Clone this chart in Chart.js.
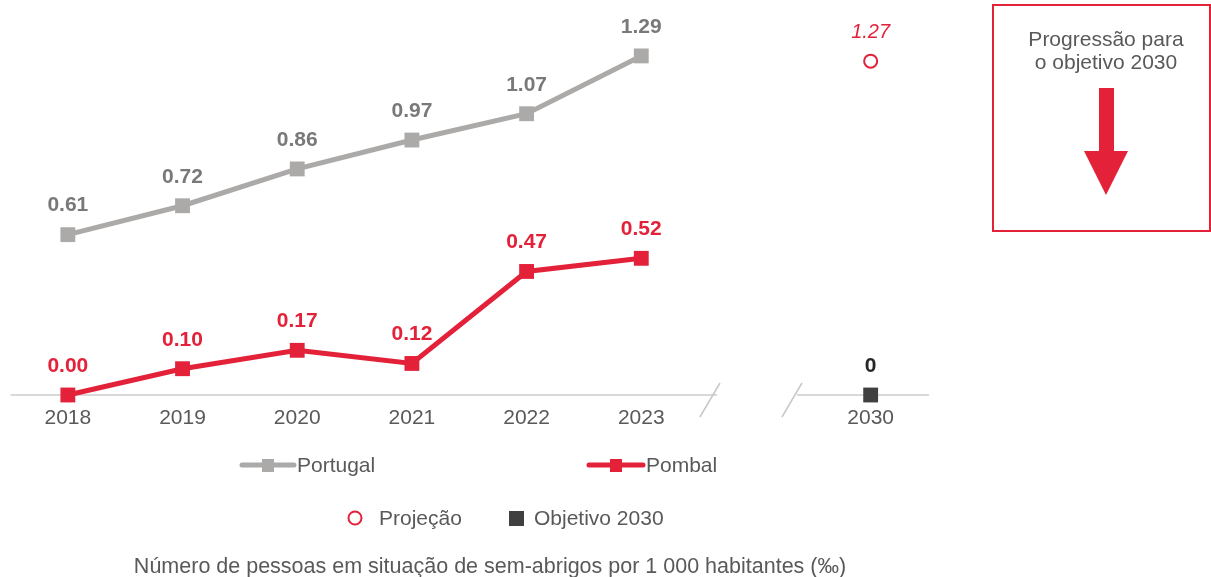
<!DOCTYPE html>
<html>
<head>
<meta charset="utf-8">
<script src="https://cdn.jsdelivr.net/npm/chart.js@4"></script>
<style>
  html, body { margin: 0; padding: 0; background: #fff; }
  #wrap { position: relative; width: 1211px; height: 577px; }
</style>
</head>
<body>
<div id="wrap"><canvas id="chart" width="1211" height="577"></canvas></div>
<script>
let years = ['2018', '2019', '2020', '2021', '2022', '2023', '', '2030']
let portugal = [0.61, 0.72, 0.86, 0.97, 1.07, 1.29, null, null]
let pombal = [0.00, 0.10, 0.17, 0.12, 0.47, 0.52, null, null]
let projecao = [null, null, null, null, null, null, null, 1.27]
let objetivo = [null, null, null, null, null, null, null, 0]

let red = '#e3223a'
let grey = '#acaaa9'
let txt = '#595959'
let font = '"Liberation Sans", Arial, sans-serif'

// value labels above the points
let labelPlugin = {
    id: 'labels',
    afterDatasetsDraw(chart) {
        let ctx = chart.ctx
        ctx.save()
        ctx.textAlign = 'center'
        ctx.textBaseline = 'middle'
        chart.data.datasets.forEach(function(ds, i) {
            let meta = chart.getDatasetMeta(i)
            meta.data.forEach(function(pt, j) {
                let v = ds.data[j]
                if (v === null) return
                let s
                if (ds.label === 'Objetivo 2030') {
                    s = '0'
                    ctx.font = 'bold 21px ' + font
                    ctx.fillStyle = '#262626'
                } else if (ds.label === 'Projeção') {
                    s = v.toFixed(2)
                    ctx.font = 'italic 20px ' + font
                    ctx.fillStyle = red
                } else {
                    s = v.toFixed(2)
                    ctx.font = 'bold 21px ' + font
                    ctx.fillStyle = ds.label === 'Pombal' ? red : '#7a7878'
                }
                ctx.fillText(s, pt.x, pt.y - 29)
            })
        })
        ctx.restore()
    }
}

// axis with break, legend, box
let extrasPlugin = {
    id: 'extras',
    beforeDatasetsDraw(chart) {
        let ctx = chart.ctx
        let xs = chart.scales.x
        let ys = chart.scales.y
        let y0 = ys.getPixelForValue(0)
        let gap = xs.getPixelForValue(6)
        ctx.save()
        ctx.strokeStyle = '#d9d9d9'
        ctx.lineWidth = 2
        ctx.beginPath()
        ctx.moveTo(chart.chartArea.left, y0)
        ctx.lineTo(gap - 39, y0)
        ctx.moveTo(gap + 41, y0)
        ctx.lineTo(chart.chartArea.right + 1, y0)
        ctx.stroke()
        ctx.strokeStyle = '#c8c8c8'
        ctx.lineWidth = 1.5
        ctx.beginPath()
        ctx.moveTo(gap - 36, y0 - 12)
        ctx.lineTo(gap - 56, y0 + 22)
        ctx.moveTo(gap + 46, y0 - 12)
        ctx.lineTo(gap + 26, y0 + 22)
        ctx.stroke()
        ctx.restore()
    },
    afterDraw(chart) {
        let ctx = chart.ctx
        ctx.save()
        ctx.font = '21px ' + font
        ctx.textBaseline = 'middle'
        ctx.textAlign = 'left'

        // legend row 1
        let rows = [
            { x: 240, w: 56, color: grey, label: 'Portugal' },
            { x: 587, w: 58, color: red, label: 'Pombal' }
        ]
        rows.forEach(function(r) {
            ctx.strokeStyle = r.color
            ctx.lineWidth = 5
            ctx.lineCap = 'round'
            ctx.beginPath()
            ctx.moveTo(r.x + 2, 465)
            ctx.lineTo(r.x + r.w - 2, 465)
            ctx.stroke()
            ctx.fillStyle = r.color
            ctx.fillRect(r.x + r.w / 2 - 6, 459, 12, 13)
            ctx.fillStyle = txt
            ctx.fillText(r.label, r.x + r.w + 1, 466)
        })

        // legend row 2
        ctx.strokeStyle = red
        ctx.lineWidth = 2
        ctx.beginPath()
        ctx.arc(355, 518, 6.5, 0, Math.PI * 2)
        ctx.stroke()
        ctx.fillStyle = txt
        ctx.fillText('Projeção', 379, 519)
        ctx.fillStyle = '#404040'
        ctx.fillRect(509, 511, 15, 15)
        ctx.fillStyle = txt
        ctx.fillText('Objetivo 2030', 534, 519)

        // bottom title
        ctx.textAlign = 'center'
        ctx.font = '21.5px ' + font
        ctx.fillText('Número de pessoas em situação de sem-abrigos por 1 000 habitantes (‰)', 490, 567)

        // right box
        ctx.strokeStyle = red
        ctx.lineWidth = 2
        ctx.strokeRect(993, 5, 217, 226)
        ctx.font = '21px ' + font
        ctx.fillStyle = txt
        ctx.fillText('Progressão para', 1106, 40)
        ctx.fillText('o objetivo 2030', 1106, 63)
        ctx.fillStyle = red
        ctx.fillRect(1099, 88, 15, 64)
        ctx.beginPath()
        ctx.moveTo(1084, 151)
        ctx.lineTo(1128, 151)
        ctx.lineTo(1106, 195)
        ctx.closePath()
        ctx.fill()
        ctx.restore()
    }
}

let chart = new Chart(document.querySelector('#chart'), {
    type: 'line',
    data: {
        labels: years,
        datasets: [
            {
                label: 'Portugal', data: portugal,
                borderColor: grey, backgroundColor: grey, borderWidth: 5,
                pointStyle: 'rect', pointRadius: 10.5, pointBorderWidth: 0,
                clip: false
            },
            {
                label: 'Pombal', data: pombal,
                borderColor: red, backgroundColor: red, borderWidth: 5,
                pointStyle: 'rect', pointRadius: 10.5, pointBorderWidth: 0,
                clip: false
            },
            {
                label: 'Projeção', data: projecao, showLine: false,
                borderColor: red, backgroundColor: '#fff',
                pointStyle: 'circle', pointRadius: 6.5, pointBorderWidth: 2,
                clip: false
            },
            {
                label: 'Objetivo 2030', data: objetivo, showLine: false,
                borderColor: '#404040', backgroundColor: '#404040',
                pointStyle: 'rect', pointRadius: 10.5, pointBorderWidth: 0,
                clip: false
            }
        ]
    },
    options: {
        responsive: false,
        animation: false,
        layout: { padding: { top: 27, left: 8, right: 283, bottom: 0 } },
        plugins: {
            legend: { display: false },
            tooltip: { enabled: false }
        },
        scales: {
            x: {
                offset: true,
                grid: { display: false, drawTicks: false },
                border: { display: false },
                ticks: { color: txt, font: { family: font, size: 21 }, padding: 11, maxRotation: 0, autoSkip: false },
                afterFit: function(s) { s.height = 182 }
            },
            y: {
                display: false,
                min: 0, max: 1.4
            }
        }
    },
    plugins: [labelPlugin, extrasPlugin]
})
</script>
</body>
</html>
